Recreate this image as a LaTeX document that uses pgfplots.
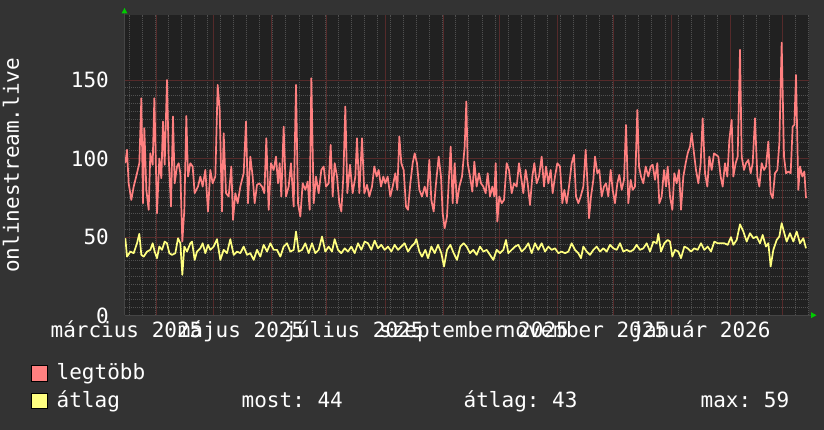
\documentclass[border=0pt]{standalone}
\usepackage{pgfplots}
\pgfplotsset{compat=1.18}
\usepackage{fontspec}
\setmainfont{DejaVu Sans Mono}
\definecolor{canvas}{HTML}{333333}
\definecolor{plotbg}{HTML}{212121}
\definecolor{mingrid}{HTML}{505050}
\definecolor{majgrid}{HTML}{552A2A}
\definecolor{axisgray}{HTML}{454545}
\definecolor{maxred}{HTML}{FF8080}
\definecolor{avgyel}{HTML}{FFFF80}
\definecolor{arrowgreen}{HTML}{00CC00}

\pgfplotstableread{
u v
10 97
15 105.5
20 84.2
28 73.6
35 82
45 90.6
52 97
58 138.4
63 71.5
67 119.3
73 80
80 67.3
85 103.3
92 96
97 138.4
105 65.1
112 100
118 87.4
123 123.5
128 96
135 150
140 101
147 69.4
153 126.7
158 84.2
165 94.9
170 97
175 90.6
181 47.1
187 67.3
193 127.1
198 88.5
205 97
212 94.9
218 77.9
228 82.1
235 88.5
242 82.1
250 92.7
258 66.2
265 92.7
272 84.2
280 88.5
287 146.9
293 131
300 66.2
305 116.1
312 77.9
320 75.8
328 94.9
333 60.9
340 77.9
347 71.5
355 82.1
365 90.6
372 123.5
378 71.5
385 101.2
392 88.5
398 71.5
405 83.2
412 84.2
420 82.1
427 77.9
433 112.9
440 67.3
447 97
455 92.7
462 101.2
468 84.2
473 97
478 75.8
485 120.3
492 75.8
500 82.1
507 97
515 69.4
522 146.9
528 71.5
535 63
542 84.2
550 80
557 85.3
563 67.3
568 151.1
575 71.5
582 88.5
590 77.9
598 92.7
605 94.9
612 82.1
620 84.2
626 108.7
632 75.8
638 97
645 88.5
652 71.5
658 66.2
664 88.5
670 133.1
676 77.9
684 96
692 77.9
700 88.5
705 112.9
712 77.9
720 112.9
727 77.9
735 83.2
742 75.8
750 82.1
757 94.9
764 88.5
770 92.7
777 82.1
784 88.5
790 84.2
797 88.5
805 75.8
812 82.1
820 90.6
826 80
832 114
838 97
845 92.7
852 69.4
858 67.3
865 84.2
872 97
878 103.3
885 97
892 80
900 75.8
908 82.1
915 75.8
922 99.1
928 73.6
935 66.2
942 84.2
950 101.2
957 88.5
962 65.1
968 55.6
975 63
980 84.2
986 107.6
992 71.5
998 97
1005 71.5
1012 82.1
1020 88.5
1028 107.6
1033 136.3
1037 97
1044 88.5
1051 78.9
1057 98
1064 82.1
1071 90.6
1077 84.2
1084 82.1
1091 77.9
1097 90.6
1104 75.8
1111 82.1
1117 75.8
1121 97
1126 59.8
1132 75.8
1139 71.5
1146 73.6
1154 97
1161 92.7
1169 77.9
1176 84.2
1184 82.1
1191 97
1197 88.5
1204 77.9
1211 92.7
1217 84.2
1224 70.4
1231 88.5
1237 97
1244 84.2
1251 88.5
1259 101.2
1266 82.1
1272 94.9
1279 84.2
1286 92.7
1292 77.9
1299 88.5
1306 97
1314 94.9
1321 71.5
1327 80
1334 71.5
1341 82.1
1349 97
1356 102.3
1362 75.8
1369 71.5
1376 75.8
1384 82.1
1391 105.5
1397 82.1
1401 61.9
1407 75.8
1414 86.4
1419 101.2
1426 90.6
1432 92.7
1439 75.8
1446 82.1
1452 84.2
1459 75.8
1466 92.7
1472 80
1479 71.5
1486 84.2
1492 89.6
1499 80
1506 86.4
1512 121.4
1519 71.5
1526 86.4
1532 80
1539 82.1
1546 130.9
1551 94.9
1557 88.5
1564 84.2
1571 94.9
1579 88.5
1586 94.9
1592 96
1599 86.4
1606 97
1612 71.5
1619 75.8
1626 92.7
1632 82.1
1637 94.9
1644 75.8
1651 67.3
1657 90.6
1664 84.2
1671 92.7
1677 67.3
1684 88.5
1691 97
1697 103.3
1704 107.6
1709 116.1
1716 103.3
1722 92.7
1729 84.2
1736 97
1742 125.6
1749 90.6
1756 82.1
1762 101.2
1769 92.7
1776 103.3
1782 102.3
1789 101.2
1796 88.5
1802 82.1
1809 97
1816 88.5
1822 111.8
1829 124.6
1834 88.5
1841 97
1847 101.2
1854 169.2
1859 101.2
1866 92.7
1872 97
1879 99.1
1886 90.6
1892 97
1899 125.6
1906 88.5
1912 82.1
1919 97
1926 92.7
1932 94.9
1939 110.8
1946 77.9
1952 74.7
1959 90.6
1966 92.7
1972 109.7
1979 173.8
1986 101.2
1992 90.6
1999 91.7
2006 90.6
2012 120.3
2017 121.4
2022 153.2
2029 80
2034 94.9
2041 88.5
2047 91.7
2052 74.7
}\maxtable

\pgfplotstableread{
u v
10 49.2
15 37.5
25 40.7
35 39.7
45 46
52 52
58 38.6
65 37.5
75 40.7
85 41.8
92 46
98 40.7
105 36.5
112 43.9
120 41.8
128 47.1
135 46
142 39.7
150 38.6
160 39.7
168 49.2
175 46
181 25.9
187 43.9
195 40.7
205 46
210 47.1
218 35.4
225 40.7
235 42.8
242 46
250 39.7
258 45
265 41.8
275 43.9
285 48.6
295 35.4
305 41.8
315 39.7
325 48.6
335 38.6
345 40.7
355 39.7
365 43.9
375 38.6
385 39.7
395 35.4
405 41.8
415 37.5
425 45
435 40.7
445 46
455 41.8
465 41.8
475 37.5
485 43.9
495 46
505 40.7
515 41.8
522 53.5
530 40.7
540 41.8
550 46
560 39.7
570 46
580 39.7
590 41.8
600 50.3
610 40.7
620 43.9
630 40.7
638 48.6
648 41.8
658 39.7
668 42.8
678 40.7
688 43.9
698 39.7
708 46
718 41.8
728 47.1
738 46
748 41.8
758 47.7
768 42.8
778 45
788 41.8
798 43.9
808 40.7
818 45
828 41.8
838 43.9
848 46
858 40.7
868 43.9
878 46
883 48.6
892 40.7
900 37.5
910 41.8
918 36.5
928 43.9
938 39.7
948 45
958 39.7
966 31.2
975 41.8
985 45
995 39.7
1005 35.4
1015 43.9
1025 46
1034 43.9
1044 39.7
1054 41.8
1064 38.6
1074 43.9
1084 40.7
1094 41.8
1104 38.6
1114 35.4
1124 41.8
1134 39.7
1144 41.8
1152 48.1
1159 39.7
1169 41.8
1179 43.9
1189 45
1199 40.7
1209 42.8
1219 46
1229 39.7
1239 46
1249 41.8
1259 46
1269 40.7
1279 43.9
1289 41.8
1299 42.8
1309 39.7
1319 40.7
1329 39.7
1339 40.7
1349 46
1359 41.8
1369 39.7
1377 36.5
1384 43.9
1394 40.7
1404 38.6
1414 41.8
1424 43.9
1434 40.7
1444 42.8
1454 40.7
1464 45
1474 42.8
1484 41.8
1494 46
1504 40.7
1514 41.8
1524 40.7
1534 41.8
1544 45
1554 41.8
1564 42.8
1574 46
1584 40.7
1594 47.1
1604 46
1609 52
1617 40.7
1627 46
1637 48.1
1644 47.1
1651 37.5
1659 41.8
1669 40.7
1677 36.5
1687 43.9
1697 42.8
1707 40.7
1717 42.8
1727 41.8
1737 46
1747 41.8
1757 43.9
1767 40.7
1777 47.1
1787 46
1797 46
1807 46
1817 45
1827 49.9
1834 45
1844 48.1
1854 58.1
1864 53.5
1874 47.1
1884 52.4
1894 49.2
1904 50.3
1914 46
1922 51.3
1932 43.9
1939 46
1946 31.2
1954 41.8
1964 48.1
1972 50.3
1979 58.8
1987 52.4
1994 47.1
2004 52.4
2014 47.1
2024 53.5
2034 46
2044 49.2
2052 42.8
}\avgtable

\begin{document}
\begin{tikzpicture}[font=\fontsize{21}{25}\selectfont\frenchspacing]
\fill[canvas] (0,0) rectangle (824pt,430pt);
\begin{axis}[
  at={(125pt,114.5pt)}, anchor=south west,
  width=684pt, height=300.5pt, scale only axis,
  xmin=9, xmax=2061, ymin=0, ymax=191.4,
  axis background/.style={fill=plotbg},
  axis line style={draw=none},
  xtick={102,274,449,614,790,964,1132,1306,1474,1648,1826,1982},
  xticklabels={},
  minor xtick={21,60.21,...,2062},
  ytick={0,50,100,150},
  minor y tick num=9,
  grid=both,
  major grid style={majgrid, line width=0.8pt},
  minor grid style={mingrid, line width=0.7pt, dash pattern=on 1pt off 1pt},
  major tick length=0pt, minor tick length=0pt,
  extra x ticks={13.5,357,696,1056,1389,1737},
  extra x tick labels={március 2025,május 2025,július 2025,szeptember 2025,november 2025,január 2026},
  extra x tick style={grid=none, major tick length=0pt},
  xticklabel style={anchor=base, yshift=-22.5pt, inner sep=0pt, text=white},
  yticklabel style={anchor=east, inner sep=0pt, xshift=-16pt, text=white},
  /pgf/number format/assume math mode=true,
  ylabel={onlinestream.live},
  every axis y label/.style={at={(axis description cs:-0.155,0.5)}, rotate=90, anchor=base, text=white, inner sep=0pt},
]
\addplot[maxred, line width=1.7pt, mark=none, line join=round] table[x=u, y=v] {\maxtable};
\addplot[avgyel, line width=1.7pt, mark=none, line join=round] table[x=u, y=v] {\avgtable};
\end{axis}
% axis lines and arrows
\draw[axisgray, line width=1pt] (124.5pt,114.5pt) -- (812pt,114.5pt);
\draw[axisgray, line width=1pt] (124.5pt,114.5pt) -- (124.5pt,417pt);
\fill[arrowgreen] (124.5pt,422pt) -- (121.5pt,416.5pt) -- (127.5pt,416.5pt) -- cycle;
\fill[arrowgreen] (816.5pt,114.8pt) -- (811pt,117.8pt) -- (811pt,111.8pt) -- cycle;
% legend
\filldraw[fill=maxred, draw=black, line width=1pt] (31.5pt,48.8pt) rectangle (47.2pt,64pt);
\filldraw[fill=avgyel, draw=black, line width=1pt] (31.5pt,21pt) rectangle (47.2pt,36.5pt);
\node[anchor=base west, inner sep=0pt, text=white] at (56.5pt,50pt) {legtöbb};
\node[anchor=base west, inner sep=0pt, text=white] at (56.5pt,22pt) {átlag};
\node[anchor=base west, inner sep=0pt, text=white] at (241.5pt,22pt) {most: 44};
\node[anchor=base west, inner sep=0pt, text=white] at (463.5pt,22pt) {átlag: 43};
\node[anchor=base west, inner sep=0pt, text=white] at (700.5pt,22pt) {max: 59};
\end{tikzpicture}
\end{document}
